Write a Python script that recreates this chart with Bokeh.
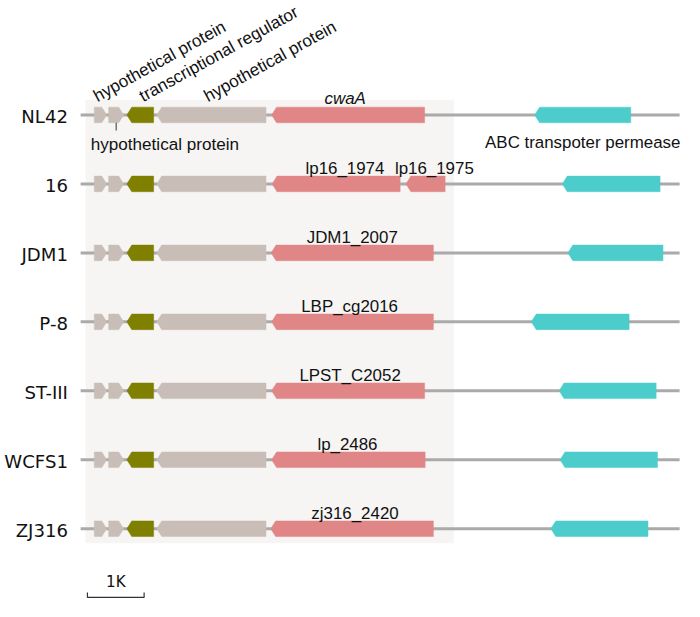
import math
from bokeh.plotting import figure
from bokeh.models import Range1d, ColumnDataSource
from bokeh.core.properties import value
from bokeh.embed import file_html
from bokeh.resources import INLINE

# ---------------- data (positions in kb from the start of each locus line) ----------------
strains = ["NL42", "16", "JDM1", "P-8", "ST-III", "WCFS1", "ZJ316"]

# genes shared by every strain: (start, end, strand)
hp1 = (0.241, 0.460, 1)
hp2 = (0.495, 0.759, 1)
treg = (0.816, 1.288, -1)
hp3 = (1.345, 3.271, -1)

cwa_start = [3.371, 3.379, 3.362, 3.371, 3.371, 3.371, 3.355]
cwa_end = [6.069, 5.638, 6.224, 6.224, 6.069, 6.079, 6.224]
cwa_labels = ["cwaA", "lp16_1974", "JDM1_2007", "LBP_cg2016", "LPST_C2052", "lp_2486", "zj316_2420"]

extra_start = 5.741          # lp16_1975 (strain 16 only)
extra_end = 6.431
extra_label = "lp16_1975"

abc_start = [8.012, 8.500, 8.598, 7.953, 8.443, 8.460, 8.298]
abc_end = [9.707, 10.224, 10.276, 9.678, 10.155, 10.178, 10.011]
abc_label = "ABC transpoter permease"

line_end = [10.569] * 7

top_labels = ["hypothetical protein", "transcriptional regulator", "hypothetical protein"]
top_label_x = [0.25, 1.06, 2.20]
bottom_label = "hypothetical protein"

scale_kb = 1.0
scale_text = "1K"

# small label nudges (screen px, reference scale)
cwa_label_nudge = [-3, 9, 0, -3, 2, -1, 3]
extra_label_nudge = 9

# ---------------- geometry helpers ----------------
W, H = 684, 601
REF_W, REF_H = 700.0, 617.0
S = W / REF_W                 # screen scale relative to the reference picture
PX_KB = 58.0                  # reference pixels per kb
PX_ROW = 70.8                 # reference pixels between rows
ROW0_PX = 117.5               # reference y of first row
LINE0_PX = 82.0               # reference x of locus start

def dx(px):
    return px / PX_KB
def dy(px):
    return px / PX_ROW
def fs(px):
    return "%.1fpx" % (px * S)

HALF_H = dy(8)
HEAD = dx(5)

GREY = "#c8beb7"
OLIVE = "#7f7f00"
PINK = "#e08686"
CYAN = "#4dcccc"
LINE = "#aaaaaa"
BG = "#f6f5f3"
TXT = "#111111"

x0 = -dx(LINE0_PX)
x1 = x0 + dx(REF_W)
y_top = -dy(ROW0_PX)
y_bot = y_top + dy(REF_H)

p = figure(width=W, height=H, output_backend="svg", toolbar_location=None,
           x_range=Range1d(x0, x1), y_range=Range1d(y_bot, y_top),
           x_axis_type=None, y_axis_type=None,
           min_border=0, min_border_left=0, min_border_right=0,
           min_border_top=0, min_border_bottom=0)
p.grid.visible = False
p.outline_line_color = None
p.background_fill_color = "white"
p.border_fill_color = "white"

rows = list(range(len(strains)))

# background box around the conserved region
bg_left = hp1[0] - dx(9)
bg_right = max(max(cwa_end), extra_end) + dx(9)
p.quad(left=[bg_left], right=[bg_right], top=[rows[0] - dy(15.5)], bottom=[rows[-1] + dy(15)],
       fill_color=BG, line_color=None)

# locus lines
p.segment(x0=[0] * len(rows), x1=line_end, y0=rows, y1=rows, line_color=LINE, line_width=3)

def arrow(s, e, strand, y):
    if strand > 0:
        xs = [s, e - HEAD, e, e - HEAD, s]
        ys = [y - HALF_H, y - HALF_H, y, y + HALF_H, y + HALF_H]
    else:
        xs = [s, s + HEAD, e, e, s + HEAD]
        ys = [y, y - HALF_H, y - HALF_H, y + HALF_H, y + HALF_H]
    return xs, ys

xs, ys, cols = [], [], []
for i in rows:
    for g, c in ((hp1, GREY), (hp2, GREY), (treg, OLIVE), (hp3, GREY)):
        a, b = arrow(g[0], g[1], g[2], i)
        xs.append(a); ys.append(b); cols.append(c)
    a, b = arrow(cwa_start[i], cwa_end[i], -1, i)
    xs.append(a); ys.append(b); cols.append(PINK)
    if strains[i] == "16":
        a, b = arrow(extra_start, extra_end, -1, i)
        xs.append(a); ys.append(b); cols.append(PINK)
    a, b = arrow(abc_start[i], abc_end[i], -1, i)
    xs.append(a); ys.append(b); cols.append(CYAN)

p.patches(xs="xs", ys="ys", fill_color="c", line_color="c", line_width=0.5,
          source=ColumnDataSource(dict(xs=xs, ys=ys, c=cols)))

# strain labels
p.text(x=[0] * len(rows), y=rows, text=strains, text_align="right", text_baseline="middle",
       x_offset=-13 * S, y_offset=1.5 * S, text_font=value("DejaVu Sans"), text_font_size=fs(18.5),
       text_color=TXT)

# gene labels above the cwaA-like genes
lab_font = value("Liberation Sans")
cx = [(s + e) / 2 for s, e in zip(cwa_start, cwa_end)]
src_lab = ColumnDataSource(dict(x=cx[1:], y=rows[1:], t=cwa_labels[1:],
                                xo=[n * S for n in cwa_label_nudge[1:]]))
p.text(x=cx[:1], y=rows[:1], text=cwa_labels[:1], text_align="center", text_baseline="alphabetic",
       x_offset=cwa_label_nudge[0] * S, y_offset=-17 * S, text_font=lab_font, text_font_size=fs(17.3),
       text_font_style="italic", text_color=TXT)
p.text(x="x", y="y", text="t", x_offset="xo", source=src_lab, text_align="center",
       text_baseline="alphabetic", y_offset=-16 * S, text_font=lab_font, text_font_size=fs(17.3),
       text_color=TXT)
p.text(x=[(extra_start + extra_end) / 2], y=[rows[1]], text=[extra_label], text_align="center",
       text_baseline="alphabetic", x_offset=extra_label_nudge * S, y_offset=-16 * S,
       text_font=lab_font, text_font_size=fs(17.3), text_color=TXT)

# ABC label under first row
p.text(x=[(abc_start[0] + abc_end[0]) / 2], y=[rows[0]], text=[abc_label], text_align="center",
       text_baseline="alphabetic", y_offset=28.5 * S, text_font=lab_font, text_font_size=fs(17.3),
       text_color=TXT)

# rotated labels above first row
p.text(x=top_label_x, y=[rows[0]] * 3, text=top_labels, text_align="left", text_baseline="alphabetic",
       y_offset=-18 * S, angle=math.radians(29), text_font=lab_font, text_font_size=fs(17.5),
       text_color=TXT)

# label under second small gene with tick
hp2_c = (hp2[0] + hp2[1]) / 2
p.segment(x0=[hp2_c], x1=[hp2_c], y0=[rows[0] + HALF_H], y1=[rows[0] + HALF_H + dy(8)],
          line_color="#333333", line_width=1)
p.text(x=[hp2_c], y=[rows[0]], text=[bottom_label], text_align="left", text_baseline="alphabetic",
       x_offset=-26 * S, y_offset=30 * S, text_font=lab_font, text_font_size=fs(17.5), text_color=TXT)

# scale bar
sb_x0 = bg_left + dx(2)
sb_y = rows[-1] + dy(70.5)
p.multi_line(xs=[[sb_x0, sb_x0, sb_x0 + scale_kb, sb_x0 + scale_kb]],
             ys=[[sb_y - dy(5), sb_y, sb_y, sb_y - dy(5)]], line_color="#333333", line_width=1.2)
p.text(x=[sb_x0 + scale_kb / 2], y=[sb_y], text=[scale_text], text_align="center", text_baseline="middle",
       y_offset=-15.5 * S, text_font=value("DejaVu Sans"), text_font_size=fs(15.5), text_color=TXT)

open("out.html", "w").write(file_html(p, INLINE))
